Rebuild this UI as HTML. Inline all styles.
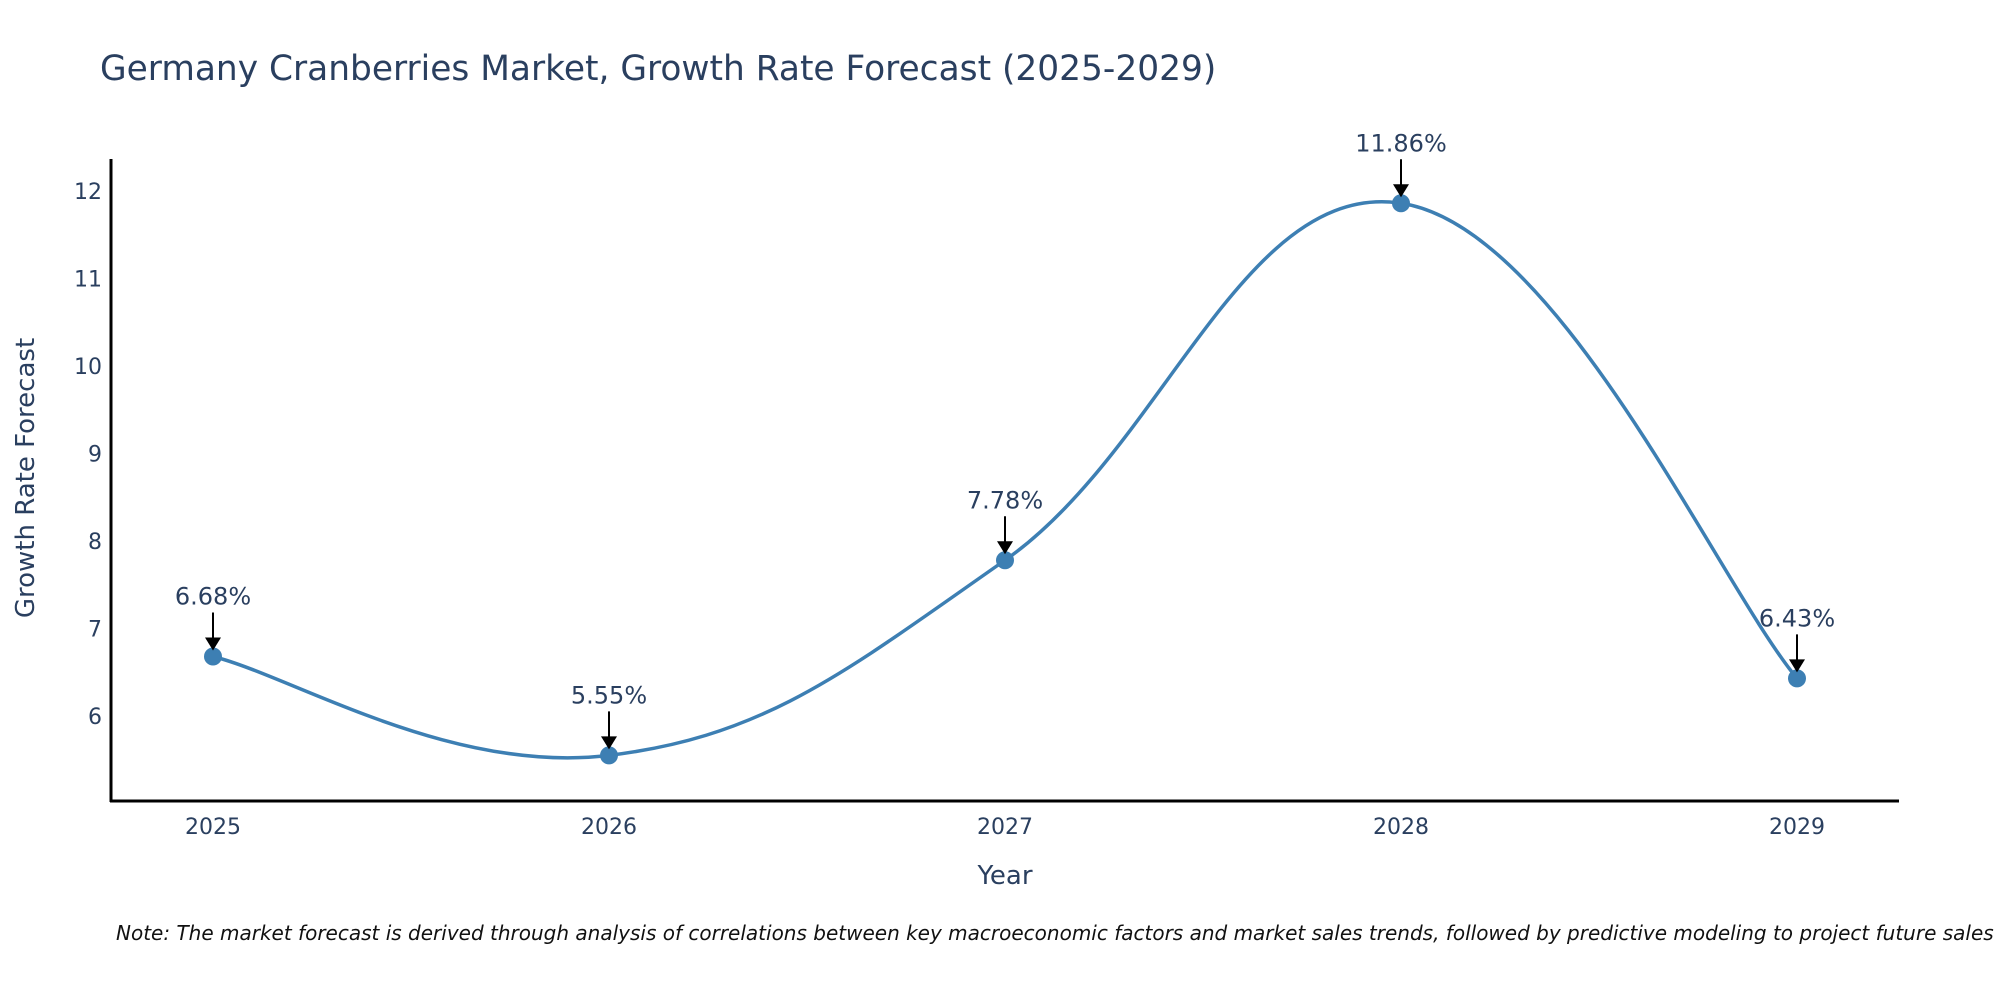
<!DOCTYPE html>
<html><head><meta charset="utf-8">
<style>
html,body{margin:0;padding:0;background:#fff;}
svg{display:block;font-family:"DejaVu Sans","Liberation Sans",sans-serif;}
</style></head>
<body>
<svg id="chart" width="2000" height="1000" viewBox="0 0 2000 1000">
<text x="100" y="80" font-size="34.4" fill="#2a3f5f">Germany Cranberries Market, Growth Rate Forecast (2025-2029)</text>
<g id="yticks"></g>
<g id="xticks"></g>
<line x1="111" y1="159" x2="111" y2="802" stroke="#000" stroke-width="3"/>
<line x1="110" y1="801" x2="1899" y2="801" stroke="#000" stroke-width="3"/>
<text transform="translate(34,478) rotate(-90)" text-anchor="middle" font-size="26" fill="#2a3f5f">Growth Rate Forecast</text>
<text x="1005" y="884" text-anchor="middle" font-size="26" fill="#2a3f5f">Year</text>
<path id="line" fill="none" stroke="#3d7fb3" stroke-width="3.5"/>
<g id="points"></g>
<g id="annos"></g>
<text x="116" y="940" font-size="20" font-style="italic" fill="#111">Note: The market forecast is derived through analysis of correlations between key macroeconomic factors and market sales trends, followed by predictive modeling to project future sales</text>
</svg>
<script>
const years = [2025, 2026, 2027, 2028, 2029];
const growth = [6.68, 5.55, 7.78, 11.86, 6.43];
const labels = ["6.68%", "5.55%", "7.78%", "11.86%", "6.43%"];
const yTicks = [6, 7, 8, 9, 10, 11, 12];

const NS = "http://www.w3.org/2000/svg";
function xs(v){ return 213 + (v - 2025) * 396; }
function ys(v){ return 716 - (v - 6) * 87.5; }
function mk(tag, attrs, parent){
  const e = document.createElementNS(NS, tag);
  for (const k in attrs) e.setAttribute(k, attrs[k]);
  parent.appendChild(e); return e;
}
const yg = document.getElementById('yticks');
yTicks.forEach(t => {
  const el = mk('text', {x: 102, y: ys(t) + 8, 'text-anchor': 'end', 'font-size': 22, fill: '#2a3f5f'}, yg);
  
  
  el.textContent = t;
});
const xg = document.getElementById('xticks');
years.forEach(y => {
  const el = mk('text', {x: xs(y), y: 834, 'text-anchor': 'middle', 'font-size': 22, fill: '#2a3f5f'}, xg);
  
  
  el.textContent = y;
});
const P = years.map((y, i) => [xs(y), ys(growth[i])]);
let d = `M${P[0][0]},${P[0][1]}`;
const t = 1/5;
for (let i = 0; i < P.length - 1; i++) {
  const p0 = P[i-1] || P[i], p1 = P[i], p2 = P[i+1], p3 = P[i+2] || P[i+1];
  const c1 = [p1[0] + (p2[0]-p0[0])*t, p1[1] + (p2[1]-p0[1])*t];
  const c2 = [p2[0] - (p3[0]-p1[0])*t, p2[1] - (p3[1]-p1[1])*t];
  d += ` C${c1[0]},${c1[1]} ${c2[0]},${c2[1]} ${p2[0]},${p2[1]}`;
}
document.getElementById('line').setAttribute('d', d);
const pg = document.getElementById('points');
const ag = document.getElementById('annos');
P.forEach((p, i) => {
  const c = mk('circle', {cx: p[0], cy: p[1], r: 9, fill: '#3d7fb3'}, pg);
  
  
  const l = mk('line', {x1: p[0], y1: p[1] - 44, x2: p[0], y2: p[1] - 18, stroke: '#000', 'stroke-width': 2}, ag);
  
  
  const h = mk('polygon', {points: `${p[0]-8},${p[1]-19} ${p[0]+8},${p[1]-19} ${p[0]},${p[1]-6}`, fill: '#000'}, ag);
  
  
  const tx = mk('text', {x: p[0], y: p[1] - 52, 'text-anchor': 'middle', 'font-size': 24, fill: '#2a3f5f'}, ag);
  
  
  tx.textContent = labels[i];
});
</script>
</body></html>
